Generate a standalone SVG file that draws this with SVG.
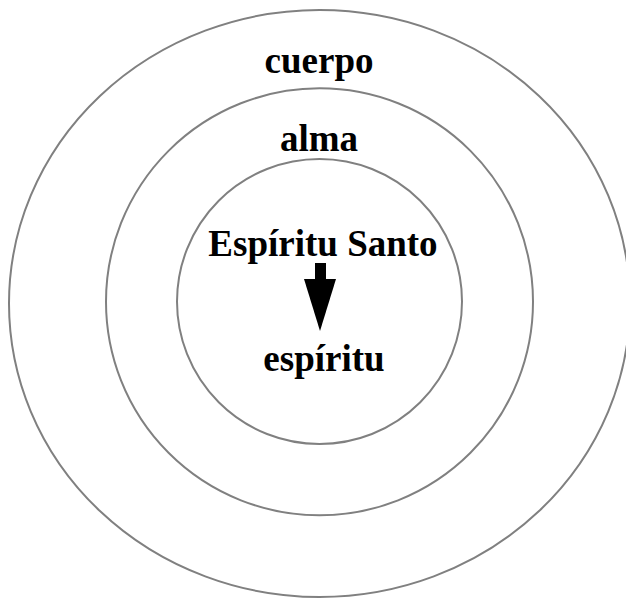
<svg xmlns="http://www.w3.org/2000/svg" width="626" height="599" viewBox="0 0 626 599">
<style>
.ring{fill:none;stroke:#808080;stroke-width:2}
.lbl{font-family:"Liberation Serif","Times New Roman",serif;font-weight:bold;font-size:37px;fill:#000;text-anchor:middle}
</style>
<rect width="626" height="599" fill="#fff"/>
<g id="cuerpo">
<ellipse class="ring" cx="319.5" cy="303.5" rx="310.5" ry="293.5"/>
<text class="lbl" x="319" y="73">cuerpo</text>
</g>
<g id="alma">
<circle class="ring" cx="319.5" cy="301.8" r="213.5"/>
<text class="lbl" x="319" y="151">alma</text>
</g>
<g id="espiritu">
<circle class="ring" cx="319.5" cy="301.5" r="142.5"/>
<text class="lbl" x="323" y="256">Espíritu Santo</text>
<text class="lbl" x="324" y="371">espíritu</text>
</g>
<g id="connectors">
<rect x="315" y="263" width="11" height="17" fill="#000"/>
<polygon points="304,279 336,279 320,331" fill="#000"/>
</g>
</svg>
